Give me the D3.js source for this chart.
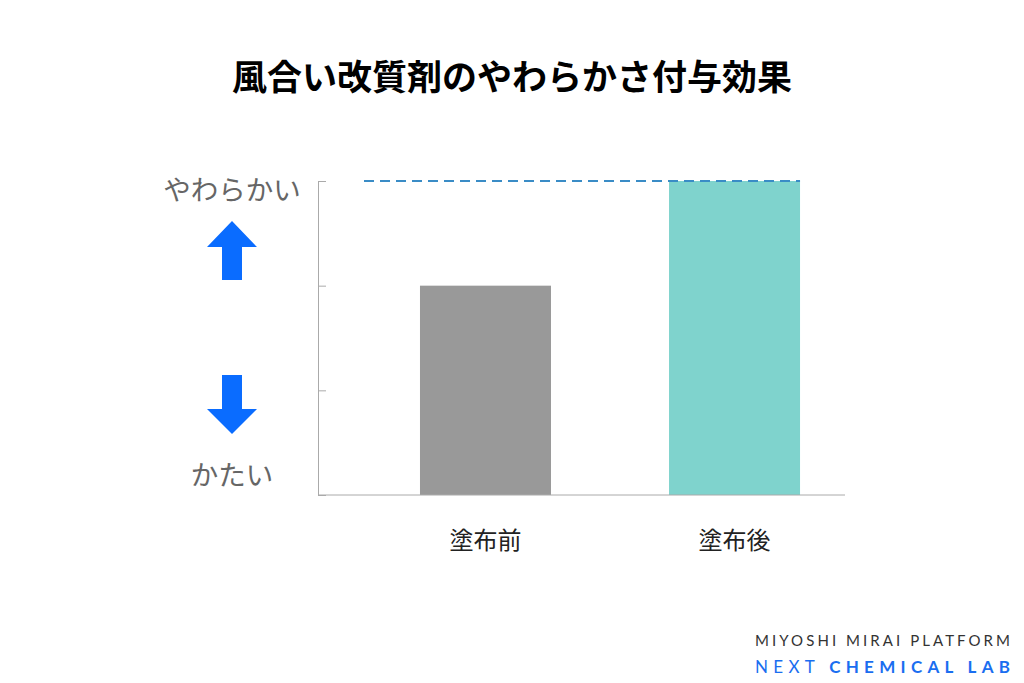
<!DOCTYPE html>
<html>
<head>
<meta charset="utf-8">
<script src="https://cdn.jsdelivr.net/npm/d3@7"></script>
<style>
    body { margin: 0; background: #fff; }
    svg { display: block; }
</style>
</head>
<body>
<div id="chart"></div>
<script>
// data
const categories = ['塗布前', '塗布後'];
const softness = [2, 3];
const tickValues = [0, 1, 2, 3];
const topLabel = 'やわらかい';
const bottomLabel = 'かたい';
const title = '風合い改質剤のやわらかさ付与効果';

const width = 1024;
const height = 683;
const jp = '"Noto Sans CJK JP", "Noto Sans", sans-serif';

const svg = d3.select('#chart')
    .append('svg')
    .attr('width', width)
    .attr('height', height);

// scales
const x = d3.scaleBand()
    .domain(categories)
    .range([ 318, 845 ])
    .paddingInner(0.474)
    .paddingOuter(0.295)
    .align(0.694);
const y = d3.scaleLinear().domain([ 0, 3 ]).range([ 495, 181 ]);

// title
svg.append('text')
    .attr('x', 512)
    .attr('y', 90)
    .attr('text-anchor', 'middle')
    .style('font-family', jp)
    .style('font-weight', 'bold')
    .style('font-size', '35px')
    .attr('fill', '#000')
    .text(title);

// y axis (ticks pointing inward)
const yAxis = svg.append('g')
    .attr('transform', 'translate(318,0)')
    .call(d3.axisRight(y).tickValues(tickValues).tickSize(8).tickSizeOuter(0).tickFormat(''));
yAxis.select('.domain').attr('stroke', '#aaa');
yAxis.selectAll('line').attr('stroke', '#aaa');

// bars
const colors = [ '#999999', '#7fd3cd' ];
svg.selectAll('rect.bar')
    .data(softness)
    .enter()
    .append('rect')
    .attr('class', 'bar')
    .attr('x', (d, i) => x(categories[i]))
    .attr('y', d => y(d))
    .attr('width', x.bandwidth())
    .attr('height', d => y(0) - y(d))
    .attr('fill', (d, i) => colors[i]);

// x baseline
svg.append('line')
    .attr('x1', 318).attr('x2', 845)
    .attr('y1', y(0)).attr('y2', y(0))
    .attr('stroke', '#aaa');

// dashed reference at max
const maxVal = d3.max(softness);
svg.append('line')
    .attr('x1', 364)
    .attr('x2', x(categories[1]) + x.bandwidth())
    .attr('y1', y(maxVal)).attr('y2', y(maxVal))
    .attr('stroke', '#3a8cc6')
    .attr('stroke-width', 2)
    .attr('stroke-dasharray', '10,6');

// category labels
svg.selectAll('text.cat')
    .data(categories)
    .enter()
    .append('text')
    .attr('class', 'cat')
    .attr('x', d => x(d) + x.bandwidth() / 2)
    .attr('y', 549)
    .attr('text-anchor', 'middle')
    .style('font-family', jp)
    .style('font-size', '24px')
    .attr('fill', '#222')
    .text(d => d);

// side labels
svg.append('text')
    .attr('x', 232).attr('y', 200)
    .attr('text-anchor', 'middle')
    .style('font-family', jp)
    .style('font-size', '27.5px')
    .attr('fill', '#666')
    .text(topLabel);
svg.append('text')
    .attr('x', 232).attr('y', 485)
    .attr('text-anchor', 'middle')
    .style('font-family', jp)
    .style('font-size', '27.5px')
    .attr('fill', '#666')
    .text(bottomLabel);

// arrows
const arrowUp = 'M232,221 L257,247 L242,247 L242,280 L222,280 L222,247 L207,247 Z';
const arrowDown = 'M232,434 L257,409 L242,409 L242,375 L222,375 L222,409 L207,409 Z';
svg.append('path').attr('d', arrowUp).attr('fill', '#0a6cff');
svg.append('path').attr('d', arrowDown).attr('fill', '#0a6cff');

// footer
svg.append('text')
    .attr('x', 755).attr('y', 646)
    .attr('textLength', 255)
    .attr('lengthAdjust', 'spacing')
    .style('font-family', 'Lato, "Open Sans", sans-serif')
    .style('font-size', '15px')
    .attr('fill', '#333')
    .text('MIYOSHI MIRAI PLATFORM');

const foot2 = svg.append('text')
    .attr('x', 755).attr('y', 673)
    .attr('textLength', 255)
    .attr('lengthAdjust', 'spacing')
    .style('font-family', 'Lato, "Open Sans", sans-serif')
    .style('font-size', '17px')
    .attr('fill', '#1a6ef0');
foot2.append('tspan').text('NEXT ');
foot2.append('tspan').style('font-weight', 'bold').text('CHEMICAL LAB');
</script>
</body>
</html>
